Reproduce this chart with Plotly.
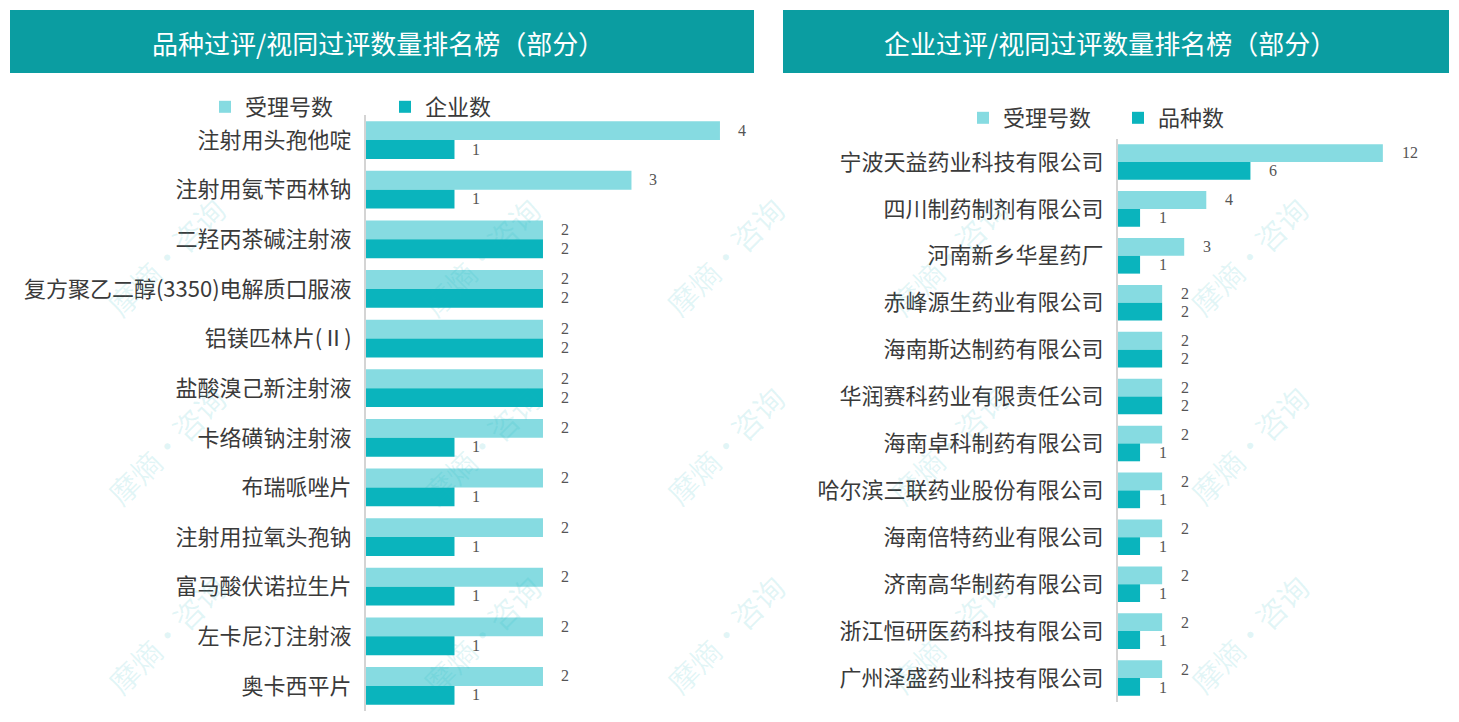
import plotly.graph_objects as go

# ---------------- data ----------------
left_categories = ["注射用头孢他啶", "注射用氨苄西林钠", "二羟丙茶碱注射液",
                   "复方聚乙二醇(3350)电解质口服液", "铝镁匹林片(Ⅱ)", "盐酸溴己新注射液",
                   "卡络磺钠注射液", "布瑞哌唑片", "注射用拉氧头孢钠", "富马酸伏诺拉生片",
                   "左卡尼汀注射液", "奥卡西平片"]
left_accept = [4, 3, 2, 2, 2, 2, 2, 2, 2, 2, 2, 2]
left_company = [1, 1, 2, 2, 2, 2, 1, 1, 1, 1, 1, 1]

right_categories = ["宁波天益药业科技有限公司", "四川制药制剂有限公司", "河南新乡华星药厂",
                    "赤峰源生药业有限公司", "海南斯达制药有限公司", "华润赛科药业有限责任公司",
                    "海南卓科制药有限公司", "哈尔滨三联药业股份有限公司", "海南倍特药业有限公司",
                    "济南高华制药有限公司", "浙江恒研医药科技有限公司", "广州泽盛药业科技有限公司"]
right_accept = [12, 4, 3, 2, 2, 2, 2, 2, 2, 2, 2, 2]
right_variety = [6, 1, 1, 2, 2, 2, 1, 1, 1, 1, 1, 1]

left_title = "品种过评/视同过评数量排名榜（部分）"
right_title = "企业过评/视同过评数量排名榜（部分）"
series_accept = "受理号数"
series_company = "企业数"
series_variety = "品种数"

# ---------------- style ----------------
LIGHT = "#86dbe1"
DARK = "#0ab4bd"
HEADER = "#0b9da1"
CJK = "Noto Sans CJK SC"
NUM = "Liberation Serif"
TXT = "#3a3a3a"
W, H = 1459, 722

fig = go.Figure()

fig.add_trace(go.Bar(y=left_categories, x=left_accept, orientation="h", name=series_accept,
                     marker=dict(color=LIGHT, line=dict(width=0)), xaxis="x", yaxis="y",
                     legend="legend"))
fig.add_trace(go.Bar(y=left_categories, x=left_company, orientation="h", name=series_company,
                     marker=dict(color=DARK, line=dict(width=0)), xaxis="x", yaxis="y",
                     legend="legend"))
fig.add_trace(go.Bar(y=right_categories, x=right_accept, orientation="h", name=series_accept,
                     marker=dict(color=LIGHT, line=dict(width=0)), xaxis="x2", yaxis="y2",
                     legend="legend2"))
fig.add_trace(go.Bar(y=right_categories, x=right_variety, orientation="h", name=series_variety,
                     marker=dict(color=DARK, line=dict(width=0)), xaxis="x2", yaxis="y2",
                     legend="legend2"))

annotations = []
def add_values(cats, vals, xref, yref, yshift, xshift):
    for c, v in zip(cats, vals):
        annotations.append(dict(x=v, y=c, xref=xref, yref=yref, text=str(v), showarrow=False,
                                xanchor="left", yanchor="middle", xshift=xshift, yshift=yshift,
                                font=dict(family=NUM, size=16, color="#555555")))

add_values(left_categories, left_accept, "x", "y", 10, 16)
add_values(left_categories, left_company, "x", "y", -9, 16)
add_values(right_categories, right_accept, "x2", "y2", 9, 17)
add_values(right_categories, right_variety, "x2", "y2", -9, 17)

# header titles
for tx, ttl in ((378, left_title), (1110, right_title)):
    annotations.append(dict(x=tx / W, y=1 - 42 / H, xref="paper", yref="paper", text=ttl,
                            showarrow=False, xanchor="center", yanchor="middle",
                            font=dict(family=CJK, size=26, color="white")))

# watermarks
wm_x = [95, 410, 725, 1020, 1320]
wm_y = [185, 445, 705]
for wx in wm_x:
    for wy in wm_y:
        annotations.append(dict(x=wx / W, y=1 - wy / H, xref="paper", yref="paper",
                                text="摩熵·咨询", showarrow=False, textangle=-45,
                                font=dict(family=CJK, size=30, color="rgba(20,180,190,0.12)")))

shapes = [
    dict(type="rect", xref="paper", yref="paper", x0=10 / W, x1=754 / W, y0=1 - 73 / H, y1=1 - 10 / H,
         fillcolor=HEADER, line=dict(width=0), layer="below"),
    dict(type="rect", xref="paper", yref="paper", x0=783 / W, x1=1449 / W, y0=1 - 73 / H, y1=1 - 10 / H,
         fillcolor=HEADER, line=dict(width=0), layer="below"),
]

fig.update_layout(
    width=W, height=H,
    margin=dict(l=0, r=0, t=0, b=0),
    paper_bgcolor="white", plot_bgcolor="white",
    barmode="group", bargap=0.24, bargroupgap=0,
    annotations=annotations, shapes=shapes,
    xaxis=dict(domain=[366 / W, 746.5 / W], range=[0, 4.3], visible=False),
    yaxis=dict(domain=[11.2 / H, 606.8 / H], autorange="reversed", anchor="x",
               showline=True, linecolor="#d4d4d4", linewidth=2, showgrid=False, ticks="",
               ticklabelstandoff=8,
               tickfont=dict(family=CJK, size=22, color=TXT)),
    xaxis2=dict(domain=[1118 / W, 1427 / W], range=[0, 14], visible=False, anchor="y2"),
    yaxis2=dict(domain=[20.5 / H, 583.5 / H], autorange="reversed", anchor="x2",
                showline=True, linecolor="#d4d4d4", linewidth=2, showgrid=False, ticks="",
                ticklabelstandoff=8,
                tickfont=dict(family=CJK, size=22, color=TXT)),
    legend=dict(orientation="h", x=205 / W, y=1 - 107 / H, xanchor="left", yanchor="middle",
                font=dict(family=CJK, size=22, color=TXT), entrywidth=135, entrywidthmode="pixels",
                bgcolor="rgba(0,0,0,0)", traceorder="normal"),
    legend2=dict(orientation="h", x=963 / W, y=1 - 118 / H, xanchor="left", yanchor="middle",
                 font=dict(family=CJK, size=22, color=TXT), entrywidth=110, entrywidthmode="pixels",
                 bgcolor="rgba(0,0,0,0)", traceorder="normal"),
    showlegend=True,
)

fig.write_html("out.html", config={"displayModeBar": False},
               post_script="document.body.style.margin='0px';document.body.style.overflow='hidden';")
